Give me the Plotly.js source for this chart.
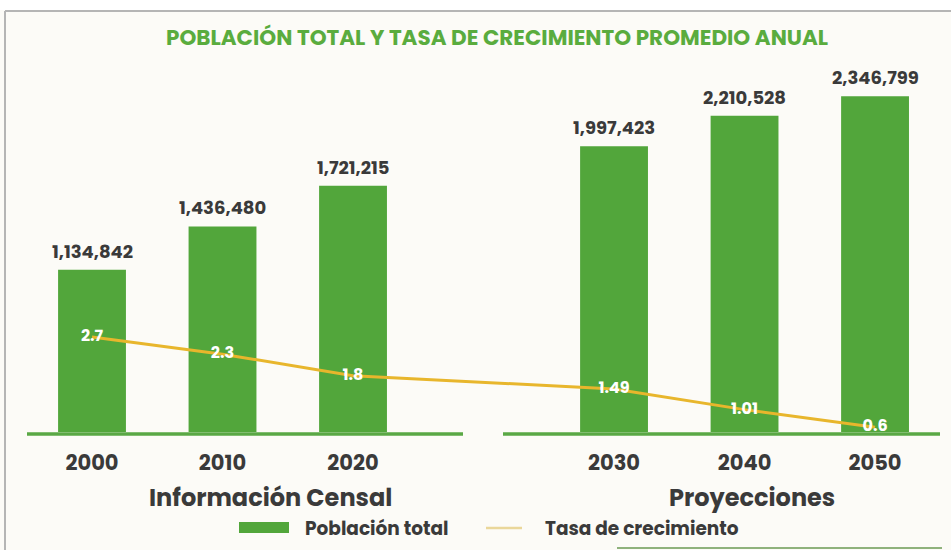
<!DOCTYPE html>
<html>
<head>
<meta charset="utf-8">
<script src="https://cdn.plot.ly/plotly-3.0.1.min.js"></script>
<style>html,body{margin:0;padding:0;background:#fff;}#chart{width:951px;height:550px;}</style>
</head>
<body>
<div id="chart"></div>
<script>
const years = ['2000', '2010', '2020', '2030', '2040', '2050'];
const poblacionTotal = [1134842, 1436480, 1721215, 1997423, 2210528, 2346799];
const tasaCrecimiento = [2.7, 2.3, 1.8, 1.49, 1.01, 0.6];
const tasaLabels = ['2.7', '2.3', '1.8', '1.49', '1.01', '0.6'];
const groupLabels = ['Información Censal', 'Proyecciones'];
const seriesNames = ['Población total', 'Tasa de crecimiento'];
const titleText = 'POBLACIÓN TOTAL Y TASA DE CRECIMIENTO PROMEDIO ANUAL';

// slot positions: census years, then a gap, then projections
const slots = years.map((y, i) => i < 3 ? i : i + 1);

const green = '#52a63b';
const yellow = '#e8b62c';
const dark = '#3a3a3a';
const font = 'Poppins, "Open Sans", Roboto, sans-serif';

const traces = [
  {
    type: 'bar', name: seriesNames[0],
    x: slots, y: poblacionTotal, width: 0.52,
    marker: {color: green},
    hoverinfo: 'skip', yaxis: 'y'
  },
  {
    type: 'scatter', mode: 'lines+text', name: seriesNames[1],
    x: slots, y: tasaCrecimiento, text: tasaLabels,
    textposition: 'middle center',
    textfont: {color: '#ffffff', size: 16, family: font, weight: 'bold'},
    line: {color: yellow, width: 3},
    yaxis: 'y2', hoverinfo: 'skip'
  }
];

const P = px => (432 - px) / 372;   // pixel row -> paper y
const X = px => px / 951;           // pixel col -> paper x

const fmt = v => v.toLocaleString('en-US');
const annotations = poblacionTotal.map((v, i) => ({
  x: slots[i], y: v, xref: 'x', yref: 'y', text: '<b>' + fmt(v) + '</b>',
  showarrow: false, yanchor: 'bottom', yshift: 4,
  font: {size: 18, color: dark, family: font}
}));
annotations.push({
  x: X(270), y: P(497), xref: 'paper', yref: 'paper', xanchor: 'center', yanchor: 'middle',
  text: '<b>' + groupLabels[0] + '</b>',
  showarrow: false, font: {size: 24, color: dark, family: font}
});
annotations.push({
  x: X(752), y: P(497), xref: 'paper', yref: 'paper', xanchor: 'center', yanchor: 'middle',
  text: '<b>' + groupLabels[1] + '</b>',
  showarrow: false, font: {size: 24, color: dark, family: font}
});
annotations.push({
  x: X(497), y: P(37), xref: 'paper', yref: 'paper', xanchor: 'center', yanchor: 'middle',
  text: '<b>' + titleText + '</b>', showarrow: false,
  font: {size: 21.5, color: '#5aac3e', family: font}
});
// legend labels
annotations.push({
  x: X(303), y: P(528), xref: 'paper', yref: 'paper', xanchor: 'left', yanchor: 'middle',
  text: '<b>' + seriesNames[0] + '</b>', showarrow: false,
  font: {size: 18.5, color: dark, family: font}
});
annotations.push({
  x: X(543), y: P(528), xref: 'paper', yref: 'paper', xanchor: 'left', yanchor: 'middle',
  text: '<b>' + seriesNames[1] + '</b>', showarrow: false,
  font: {size: 18.5, color: dark, family: font}
});

const layout = {
  width: 951, height: 550,
  margin: {l: 0, r: 0, t: 60, b: 118},
  paper_bgcolor: '#fcfbf7', plot_bgcolor: 'rgba(0,0,0,0)',
  showlegend: false,
  xaxis: {
    range: [-0.705, 6.582], tickvals: slots, ticktext: years.map(y => '<b>' + y + '</b>'),
    tickfont: {size: 21, color: dark, family: font},
    ticks: 'outside', ticklen: 12, tickcolor: 'rgba(0,0,0,0)',
    showgrid: false, zeroline: false, showline: false, fixedrange: true
  },
  yaxis: {range: [0, 2.6e6], visible: false, showgrid: false, zeroline: false},
  yaxis2: {range: [0.49, 9.14], overlaying: 'y', visible: false, showgrid: false, zeroline: false},
  shapes: [
    {type: 'rect', xref: 'paper', yref: 'paper', x0: 0, x1: 1, y0: P(10), y1: P(-5), fillcolor: '#ffffff', line: {width: 0}, layer: 'below'},
    {type: 'line', xref: 'paper', yref: 'paper', x0: X(5), x1: 1, y0: P(11), y1: P(11), line: {color: '#b5b5b5', width: 2}},
    {type: 'line', xref: 'paper', yref: 'paper', x0: X(5), x1: X(5), y0: P(11), y1: P(560), line: {color: '#b5b5b5', width: 2}},
    {type: 'line', xref: 'paper', yref: 'paper', x0: X(27), x1: X(463), y0: P(434), y1: P(434), line: {color: '#5aa845', width: 3.5}},
    {type: 'line', xref: 'paper', yref: 'paper', x0: X(503), x1: X(940), y0: P(434), y1: P(434), line: {color: '#5aa845', width: 3.5}},
    {type: 'line', xref: 'paper', yref: 'paper', x0: X(617), x1: X(942), y0: P(548), y1: P(548), line: {color: '#8fb27c', width: 2}},
    // legend swatches
    {type: 'rect', xref: 'paper', yref: 'paper', x0: X(239), x1: X(289), y0: P(533), y1: P(522), fillcolor: green, line: {width: 0}},
    {type: 'line', xref: 'paper', yref: 'paper', x0: X(486), x1: X(522), y0: P(528), y1: P(528), line: {color: '#ead79a', width: 2.5}}
  ],
  annotations: annotations
};

Plotly.newPlot('chart', traces, layout, {displayModeBar: false, staticPlot: true});
</script>
</body>
</html>
